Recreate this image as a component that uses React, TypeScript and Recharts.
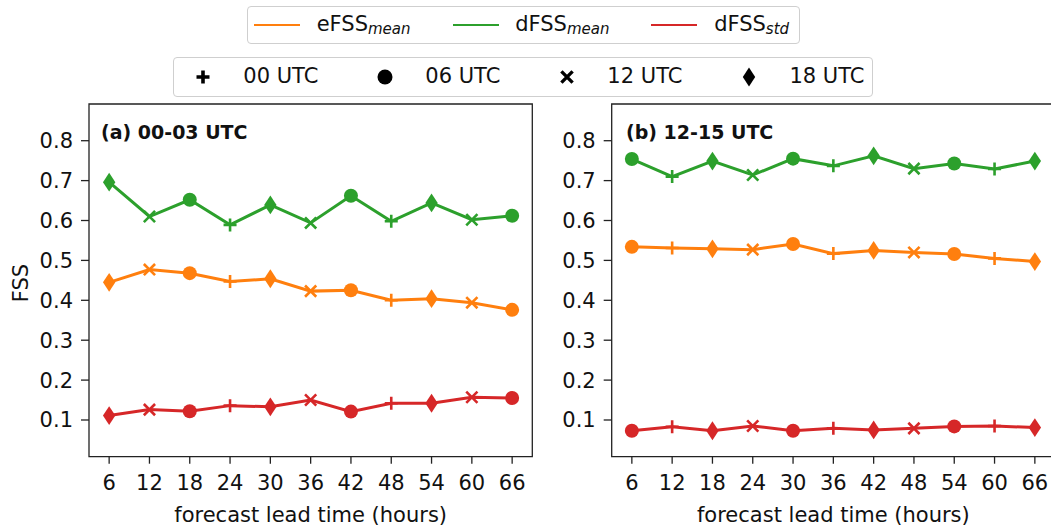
import React from "react";
import { Line, LineChart, ReferenceArea, XAxis, YAxis } from "recharts";

const leadTimes = [6, 12, 18, 24, 30, 36, 42, 48, 54, 60, 66];
const yTicks = [0.1, 0.2, 0.3, 0.4, 0.5, 0.6, 0.7, 0.8];
const initLabels = ["00 UTC", "06 UTC", "12 UTC", "18 UTC"];

// initialisation time of each point (gives the marker)
const initA = ["18", "12", "06", "00", "18", "12", "06", "00", "18", "12", "06"];
const initB = ["06", "00", "18", "12", "06", "00", "18", "12", "06", "00", "18"];

// (a) 00-03 UTC
const eFssMeanA = [0.445, 0.477, 0.468, 0.447, 0.454, 0.423, 0.425, 0.4, 0.404, 0.394, 0.376];
const dFssMeanA = [0.696, 0.61, 0.652, 0.589, 0.639, 0.594, 0.662, 0.598, 0.644, 0.602, 0.612];
const dFssStdA = [0.111, 0.126, 0.122, 0.136, 0.133, 0.15, 0.121, 0.142, 0.142, 0.157, 0.155];

// (b) 12-15 UTC
const eFssMeanB = [0.534, 0.531, 0.529, 0.527, 0.541, 0.517, 0.525, 0.52, 0.516, 0.505, 0.497];
const dFssMeanB = [0.754, 0.71, 0.749, 0.714, 0.755, 0.737, 0.762, 0.73, 0.743, 0.729, 0.749];
const dFssStdB = [0.073, 0.083, 0.073, 0.085, 0.073, 0.079, 0.075, 0.079, 0.084, 0.085, 0.081];

const series = [
  { key: "eFssMean", name: "eFSS", sub: "mean", color: "#ff7f0e" },
  { key: "dFssMean", name: "dFSS", sub: "mean", color: "#2ca02c" },
  { key: "dFssStd", name: "dFSS", sub: "std", color: "#d62728" },
];

const Y_MIN = 0.008;
const Y_MAX = 0.892;
const FONT = "'DejaVu Sans', sans-serif";
const INK = "#111";

const buildRows = (init: string[], e: number[], dm: number[], ds: number[]) =>
  leadTimes.map((t, i) => ({ lead: t, init: init[i], eFssMean: e[i], dFssMean: dm[i], dFssStd: ds[i] }));

const dataA = buildRows(initA, eFssMeanA, dFssMeanA, dFssStdA);
const dataB = buildRows(initB, eFssMeanB, dFssMeanB, dFssStdB);

function Marker({ kind, cx, cy, color, bold = false }: any) {
  if (kind === "00") {
    const s = 6.5;
    return (
      <path d={`M${cx - s},${cy}H${cx + s}M${cx},${cy - s}V${cy + s}`} stroke={color} strokeWidth={bold ? 3.6 : 2.6} fill="none" />
    );
  }
  if (kind === "06") return <circle cx={cx} cy={cy} r={bold ? 7.5 : 7} fill={color} />;
  if (kind === "12") {
    const s = 5.6;
    return (
      <path
        d={`M${cx - s},${cy - s}L${cx + s},${cy + s}M${cx - s},${cy + s}L${cx + s},${cy - s}`}
        stroke={color}
        strokeWidth={bold ? 3.4 : 2.6}
        fill="none"
      />
    );
  }
  return <path d={`M${cx},${cy - 9.4}L${cx + 6.2},${cy}L${cx},${cy + 9.4}L${cx - 6.2},${cy}Z`} fill={color} />;
}

function Panel({ data, left, yWidth, right, title, titleLeft }: any) {
  return (
    <div style={{ position: "absolute", left, top: 0 }}>
      <LineChart width={540} height={528} data={data} margin={{ top: 104, right, bottom: 0.3, left: 0 }}>
        <ReferenceArea x1={3} x2={69} y1={Y_MIN} y2={Y_MAX} fill="none" stroke="#222" strokeWidth={1.3} />
        <XAxis
          dataKey="lead"
          type="number"
          domain={[3, 69]}
          ticks={leadTimes}
          height={71}
          axisLine={false}
          tickSize={7}
          tickMargin={11}
          tickLine={{ stroke: "#222", strokeWidth: 1.3 }}
          tick={{ fontSize: 21, fill: INK, fontFamily: FONT }}
          label={{ value: "forecast lead time (hours)", position: "insideBottom", offset: 6, fontSize: 21, fill: INK, fontFamily: FONT }}
        />
        <YAxis
          type="number"
          domain={[Y_MIN, Y_MAX]}
          ticks={yTicks}
          width={yWidth}
          axisLine={false}
          tickSize={8}
          tickMargin={8}
          tickLine={{ stroke: "#222", strokeWidth: 1.3 }}
          tick={{ fontSize: 21, fill: INK, fontFamily: FONT }}
          tickFormatter={(v: number) => v.toFixed(1)}
        />
        {series.map((s) => (
          <Line
            key={s.key}
            dataKey={s.key}
            stroke={s.color}
            strokeWidth={3}
            isAnimationActive={false}
            dot={(p: any) => <Marker key={`${s.key}-${p.index}`} kind={p.payload.init} cx={p.cx} cy={p.cy} color={s.color} />}
            activeDot={false}
          />
        ))}
      </LineChart>
      <div
        style={{
          position: "absolute",
          left: titleLeft,
          top: 123.4,
          fontFamily: FONT,
          fontWeight: "bold",
          fontSize: 19,
          lineHeight: "19px",
          color: INK,
          whiteSpace: "nowrap",
        }}
      >
        {title}
      </div>
    </div>
  );
}

export default function App() {
  return (
    <div
      style={{
        position: "fixed",
        left: 0,
        top: 0,
        width: 1051,
        height: 528,
        overflow: "hidden",
        background: "#fff",
        fontFamily: FONT,
        color: INK,
      }}
    >
      <Panel data={dataA} left={0} yWidth={89} right={7.7} title="(a) 00-03 UTC" titleLeft={101} />
      <Panel data={dataB} left={540} yWidth={71.7} right={25} title="(b) 12-15 UTC" titleLeft={86} />

      <div
        style={{
          position: "absolute",
          left: 21.3,
          top: 283,
          transform: "translate(-50%, -50%) rotate(-90deg)",
          fontSize: 21,
          lineHeight: "21px",
          whiteSpace: "nowrap",
        }}
      >
        FSS
      </div>

      {/* series legend */}
      <div
        style={{
          position: "absolute",
          left: 247.3,
          top: 6,
          width: 552.7,
          height: 38,
          boxSizing: "border-box",
          border: "1px solid #cfcfcf",
          borderRadius: 4,
          display: "flex",
          alignItems: "center",
          paddingLeft: 5.7,
          gap: 42,
        }}
      >
        {series.map((s) => (
          <div key={s.key} style={{ display: "flex", alignItems: "center" }}>
            <div style={{ width: 46, height: 2.8, background: s.color, marginRight: 16.7 }} />
            <span style={{ fontSize: 21, lineHeight: "21px", whiteSpace: "nowrap" }}>
              {s.name}
              <span style={{ fontSize: 15, fontStyle: "italic", position: "relative", top: 3 }}>{s.sub}</span>
            </span>
          </div>
        ))}
      </div>

      {/* initialisation time legend */}
      <div
        style={{
          position: "absolute",
          left: 173.3,
          top: 57.3,
          width: 700,
          height: 39.4,
          boxSizing: "border-box",
          border: "1px solid #cfcfcf",
          borderRadius: 4,
          display: "flex",
          alignItems: "center",
          paddingLeft: 19,
          gap: 57,
        }}
      >
        {initLabels.map((lab) => (
          <div key={lab} style={{ display: "flex", alignItems: "center" }}>
            <svg width={20} height={22} style={{ marginRight: 30 }}>
              <Marker kind={lab.slice(0, 2)} cx={10} cy={11} color="#000" bold />
            </svg>
            <span style={{ fontSize: 21, lineHeight: "21px", whiteSpace: "nowrap" }}>{lab}</span>
          </div>
        ))}
      </div>
    </div>
  );
}
